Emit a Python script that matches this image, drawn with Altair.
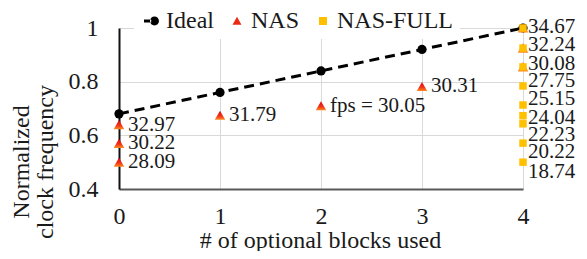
import altair as alt
import pandas as pd

# ---- data ----
BLOCKS = [0, 1, 2, 3, 4]
IDEAL = [0.68, 0.76, 0.84, 0.92, 1.0]

NAS_X = [0, 0, 0, 1, 2, 3, 4, 4, 4]
NAS_Y = [0.64, 0.57, 0.50, 0.675, 0.71, 0.782, 1.0, 0.925, 0.855]
NAS_LABEL = ["32.97", "30.22", "28.09", "31.79", "fps = 30.05", "30.31", "", "", ""]

FULL_X = [4, 4, 4, 4, 4, 4, 4, 4, 4]
FULL_Y = [1.0, 0.925, 0.855, 0.784, 0.713, 0.673, 0.643, 0.571, 0.500]
FULL_LABEL = ["34.67", "32.24", "30.08", "27.75", "25.15", "24.04", "22.23", "20.22", "18.74"]
# label nudges (px, downward positive) used by the original to avoid overlapping labels
FULL_NUDGE = [-1, -3, -3, -4.5, -6, 2, 11, 9, 10]

SERIES = ["Ideal", "NAS", "NAS-FULL"]
Y_TITLE = "Normalized\nclock frequency"
X_TITLE = "# of optional blocks used"

FONT = "Liberation Serif, Times New Roman, Tinos, serif"
RED = "#EC2A14"
GOLD = "#FFC000"
TXT = "#1a1a1a"

PLOT_W = 404
PLOT_H = 161

ideal_df = pd.DataFrame({"x": BLOCKS, "y": IDEAL})
nas_df = pd.DataFrame({"x": NAS_X, "y": NAS_Y, "label": NAS_LABEL})
full_df = pd.DataFrame({"x": FULL_X, "y": FULL_Y, "label": FULL_LABEL, "nudge": FULL_NUDGE})
legend_df = pd.DataFrame({"series": SERIES})
ytitle_df = pd.DataFrame({"t": [Y_TITLE]})

xscale = alt.Scale(domain=[0, 4], nice=False, zero=False)
yscale = alt.Scale(domain=[0.4, 1.0], nice=False, zero=False)

X = alt.X(
    "x:Q",
    scale=xscale,
    axis=alt.Axis(
        values=[0, 1, 2, 3, 4],
        format="d",
        title=X_TITLE,
        grid=True,
        gridColor="#D9D9D9",
        gridWidth=1,
        ticks=False,
        labelFlush=False,
        domainColor="#595959",
        domainWidth=2,
        labelFont=FONT,
        labelFontSize=24,
        labelColor=TXT,
        labelPadding=15,
        titleFont=FONT,
        titleFontSize=24,
        titleFontWeight="normal",
        titleColor=TXT,
        titleBaseline="alphabetic",
        titleY=58,
        titleX=201,
        titleAlign="center",
    ),
)
Y = alt.Y(
    "y:Q",
    scale=yscale,
    axis=alt.Axis(
        values=[0.4, 0.6, 0.8, 1.0],
        labelExpr="datum.value == 1 ? '1' : format(datum.value, '.1f')",
        title=None,
        grid=True,
        gridColor="#D9D9D9",
        gridWidth=1,
        ticks=False,
        labelFlush=False,
        domainColor="#111111",
        domainWidth=2,
        labelFont=FONT,
        labelFontSize=24,
        labelColor=TXT,
        labelPadding=21,
    ),
)

ideal_line = alt.Chart(ideal_df).mark_line(
    color="black", strokeWidth=3, strokeDash=[10, 6], strokeCap="butt"
).encode(x=X, y=Y)

ideal_pts = alt.Chart(ideal_df).mark_point(
    shape="circle", filled=True, size=85, color="black", opacity=1
).encode(x=X, y=Y)

tri_fill = alt.LinearGradient(
    gradient="linear",
    stops=[
        alt.GradientStop(color="#E3000F", offset=0),
        alt.GradientStop(color="#F0361A", offset=0.6),
        alt.GradientStop(color="#FF8A1E", offset=1),
    ],
    x1=0, x2=0, y1=0, y2=1,
)

nas_pts = alt.Chart(nas_df).mark_point(
    shape="triangle-up", filled=True, size=110, fill=tri_fill, opacity=1, clip=False
).encode(x=X, y=Y)

full_pts = alt.Chart(full_df).mark_point(
    shape="square", filled=True, size=56, color=GOLD, opacity=1, clip=False
).encode(x=X, y=Y)

nas_text = alt.Chart(nas_df).mark_text(
    align="left", baseline="middle", dx=9, font=FONT, fontSize=21, color=TXT
).encode(x=X, y=Y, text="label:N")

# shift labels by their pixel nudge (converted to data units of the y scale)
full_text = alt.Chart(full_df).transform_calculate(
    ylab=f"datum.y - datum.nudge * 0.6 / {PLOT_H}"
).mark_text(
    align="left", baseline="middle", dx=5, font=FONT, fontSize=21, color=TXT
).encode(
    x=X, y=alt.Y("ylab:Q", scale=yscale), text="label:N",
)

# two-line y-axis title, placed left of the tick labels (below the plot's middle, as in the original)
y_title = alt.Chart(ytitle_df).mark_text(
    angle=270, align="center", baseline="top", lineBreak="\n", lineHeight=24,
    font=FONT, fontSize=24, color=TXT,
).encode(x=alt.value(-109), y=alt.value(134), text="t:N")

# legend symbols (unit box -1..1); tiny corner slivers give every symbol the same bounds
EDGES = "M-1,0L-0.99,0L-1,0.01Z M1,0L0.99,0L1,0.01Z "
IDEAL_SYM = EDGES + "M-1,-0.19L-0.1,-0.19L-0.1,0.19L-1,0.19Z M-0.25,0A0.56,0.56 0 1,0 0.87,0A0.56,0.56 0 1,0 -0.25,0Z"
TRI_SYM = EDGES + "M-0.56,0.48L0.56,0.48L0,-0.52Z"
SQ_SYM = EDGES + "M-0.5,-0.5L0.5,-0.5L0.5,0.5L-0.5,0.5Z"

legend_layer = alt.Chart(legend_df).transform_filter("false").mark_point(
    filled=True, size=256
).encode(
    shape=alt.Shape("series:N", scale=alt.Scale(domain=SERIES, range=[IDEAL_SYM, TRI_SYM, SQ_SYM]),
                    legend=alt.Legend(title=None)),
    fill=alt.Fill("series:N", scale=alt.Scale(domain=SERIES, range=["black", RED, GOLD]),
                  legend=alt.Legend(title=None)),
)

chart = alt.layer(
    ideal_line, ideal_pts, nas_pts, full_pts, nas_text, full_text, y_title, legend_layer
).properties(
    width=PLOT_W,
    height=PLOT_H,
    padding={"left": 111, "top": 20, "right": 56, "bottom": 62},
    autosize=alt.AutoSizeParams(type="none"),
).configure_view(
    stroke=None
).configure_legend(
    orient="none",
    legendX=15,
    legendY=-25,
    direction="horizontal",
    labelFont=FONT,
    labelFontSize=24,
    labelColor=TXT,
    symbolSize=256,
    symbolStrokeWidth=0,
    labelOffset=2,
    columnPadding=11,
    fillColor="white",
    padding=6,
    symbolOpacity=1,
)

chart.save("out.html", embed_options={"renderer": "svg", "actions": False})
